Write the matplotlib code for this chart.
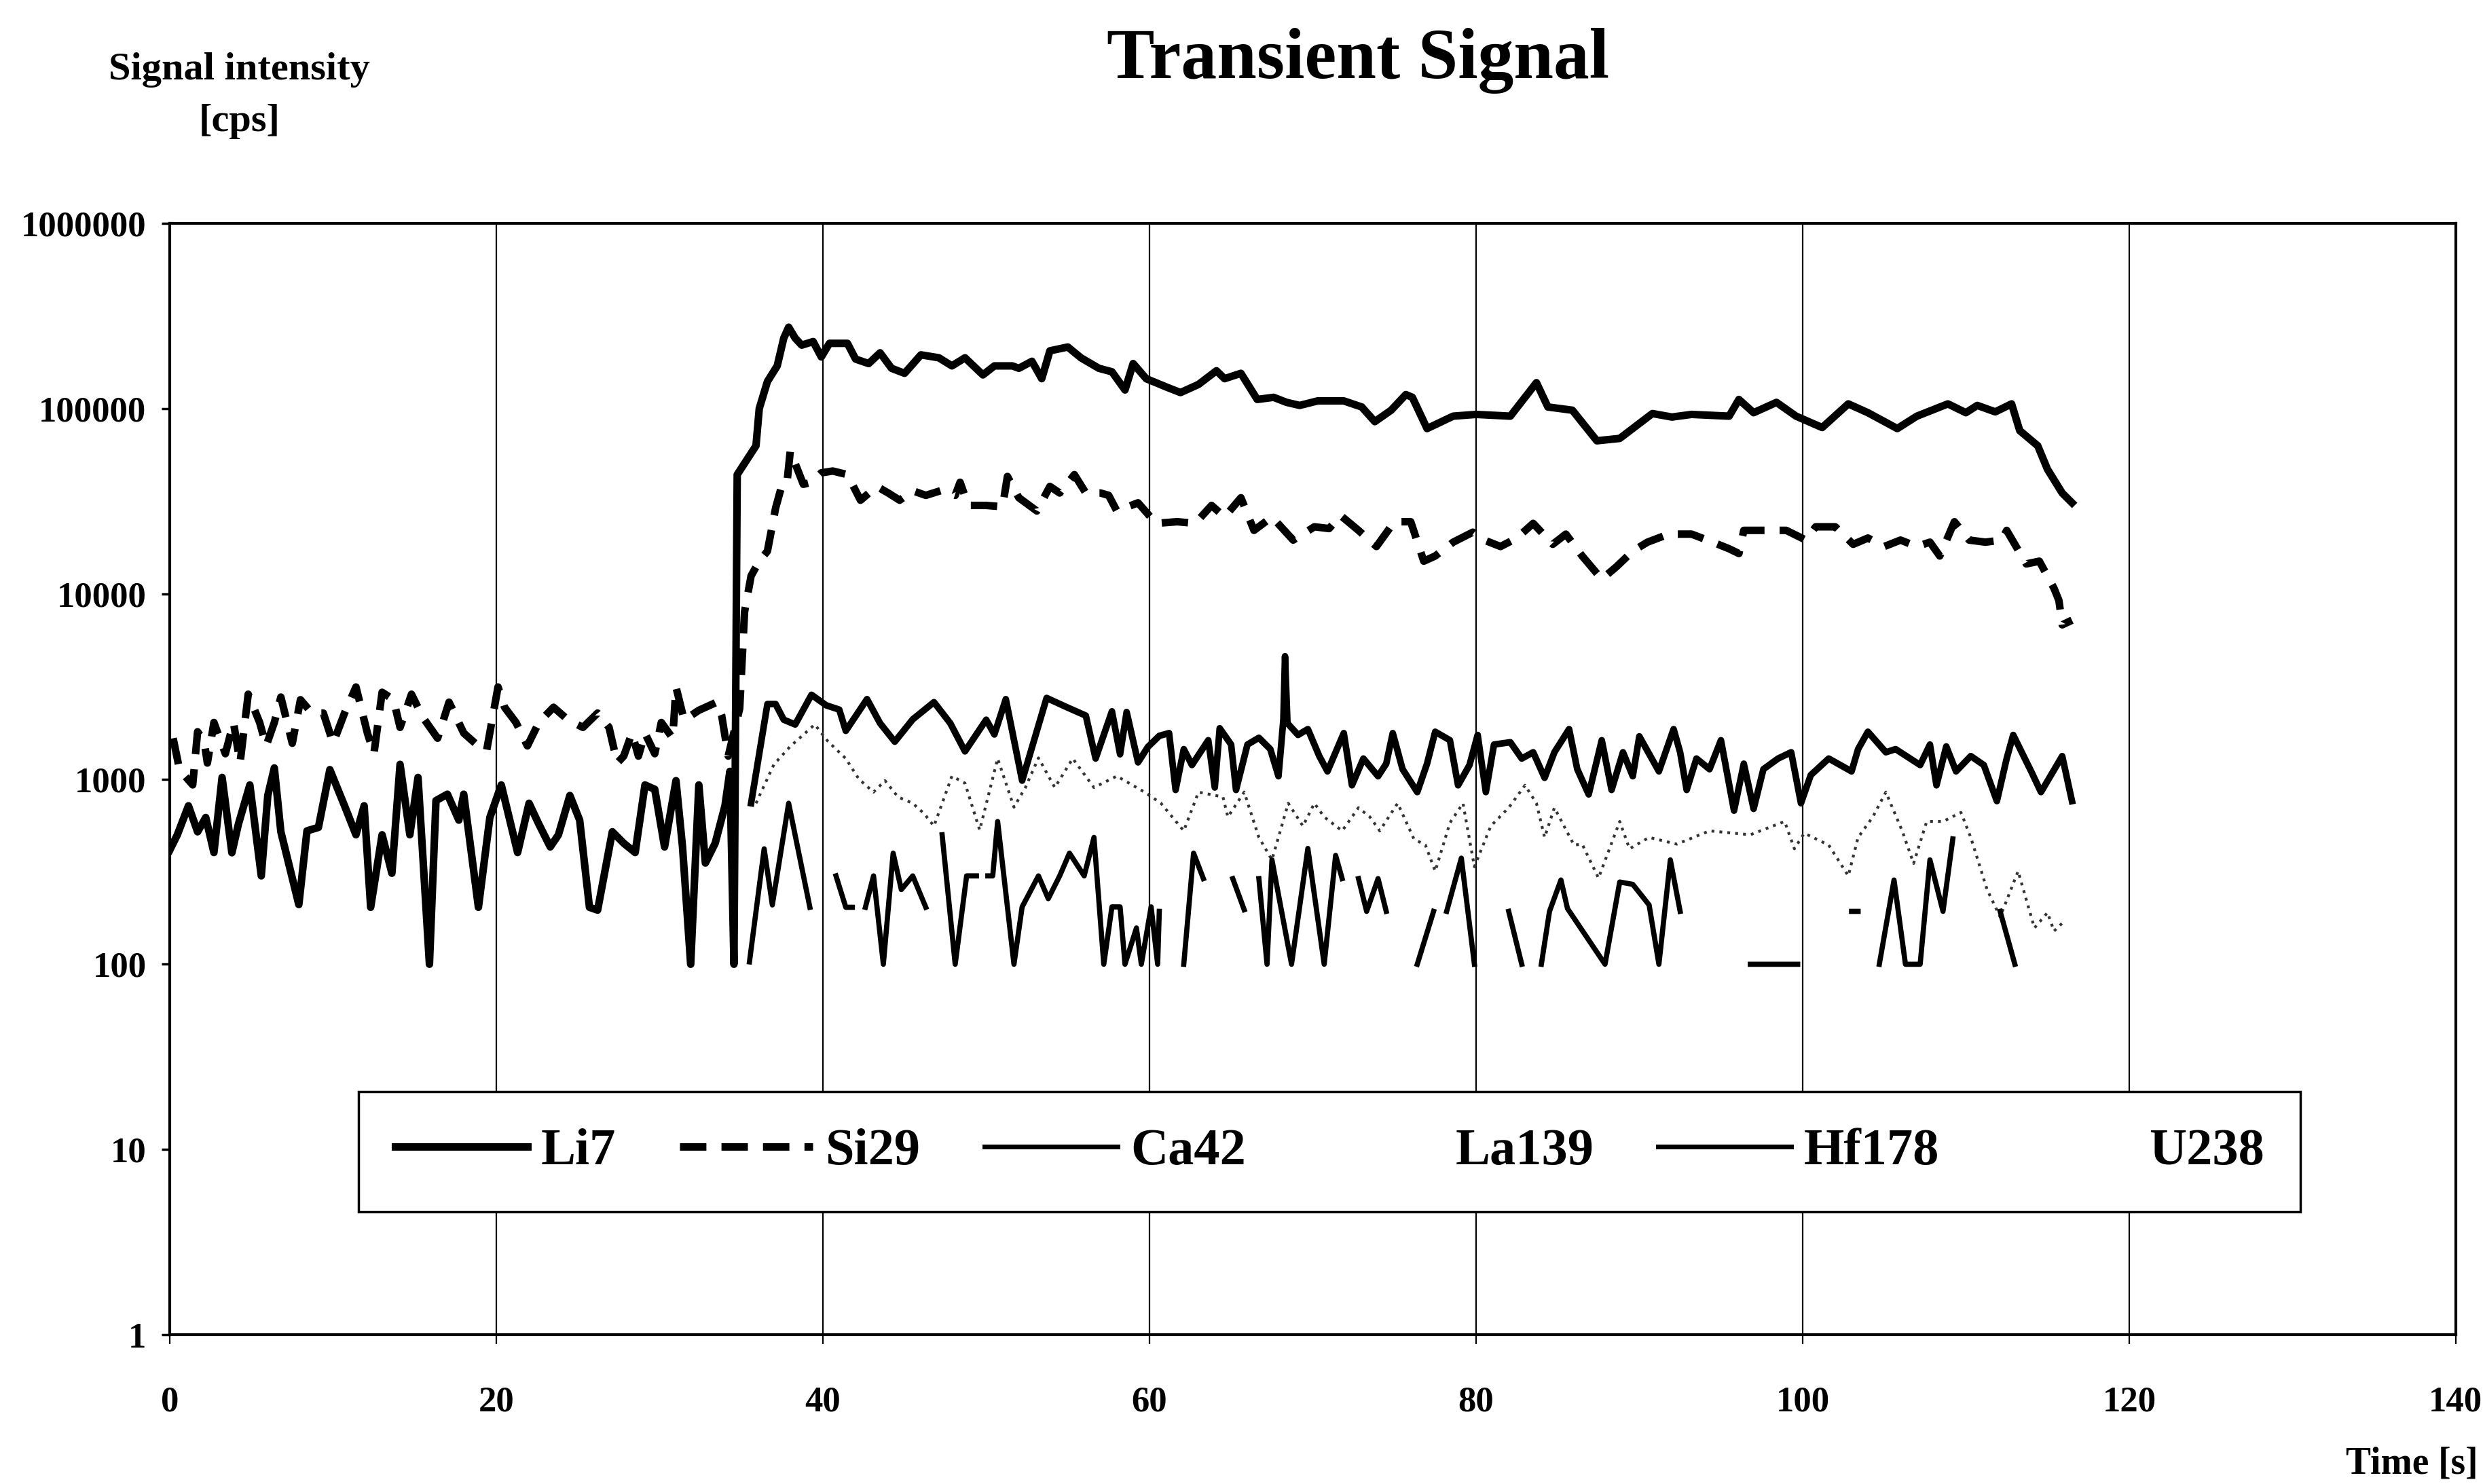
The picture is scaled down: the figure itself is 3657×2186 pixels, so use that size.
import matplotlib
matplotlib.use('Agg')
import matplotlib.pyplot as plt
from matplotlib.lines import Line2D
from matplotlib.ticker import FixedLocator, FuncFormatter, NullLocator


# Li7: background before ablation, then the main transient (cps)
li7_t = [0, 0.46, 1.14, 1.7, 2.2, 2.7, 3.2, 3.8, 4.2, 4.9, 5.6, 6.0, 6.4, 6.8, 7.9, 8.4,
         9.1, 9.8, 10.7, 11.4, 11.9, 12.3, 13.0, 13.6, 14.1, 14.7, 15.2, 15.9, 16.3, 17.0,
         17.7, 18.0, 18.9, 19.6, 20.3, 21.3, 22.0, 22.6, 23.3, 23.8, 24.5, 25.1, 25.7, 26.2,
         27.1, 27.8, 28.5, 29.1, 29.7, 30.3, 31.0, 31.4, 31.9, 32.4, 32.8, 33.4, 34.0, 34.3,
         34.55, 34.75, 35.9, 36.1, 36.6, 37.2, 37.6, 37.9, 38.3, 38.7, 39.4, 39.9, 40.4, 41.5,
         42.0, 42.8, 43.5, 44.2, 45.0, 46.0, 47.1, 47.9, 48.7, 49.8, 50.5, 51.6, 52.0, 52.8,
         53.4, 53.9, 55.0, 55.8, 56.9, 57.7, 58.5, 59.0, 59.8, 61.1, 61.9, 63.0, 64.1, 64.6,
         65.6, 66.6, 67.6, 68.4, 69.2, 70.3, 71.9, 73.0, 73.8, 74.8, 75.7, 76.1, 77.0, 78.6,
         80.0, 82.1, 83.7, 84.4, 85.9, 87.4, 88.8, 90.8, 92.0, 93.2, 95.5, 96.1, 97.0, 98.4,
         99.6, 101.2, 102.8, 104.0, 105.8, 107.0, 108.9, 110.0, 110.7, 111.8, 112.8, 113.3,
         114.4, 115.0, 115.9, 116.5]
li7_v = [414, 500, 717, 519, 620, 401, 1020, 400, 571, 929, 300, 815, 1148, 519, 210, 525,
         548, 1124, 717, 500, 717, 203, 500, 310, 1200, 500, 1020, 100, 765, 828,
         600, 828, 203, 620, 929, 401, 740, 571, 430, 500, 815, 600, 203, 196,
         519, 450, 401, 929, 880, 430, 980, 430, 100, 929, 352, 450, 717, 1100,
         100, 44000, 63000, 100000, 140000, 170000, 240000, 275000, 240000, 220000, 230000, 190000, 225000, 225000,
         185000, 175000, 200000, 165000, 155000, 195000, 188000, 170000, 188000, 152000, 170000, 170000, 165000, 180000,
         145000, 205000, 215000, 188000, 165000, 158000, 126000, 175000, 145000, 130000, 122000, 135000, 160000, 145000,
         155000, 112000, 115000, 108000, 104000, 110000, 110000, 102000, 85000, 98000, 119000, 115000, 78000, 91000,
         93000, 91000, 138000, 102000, 98000, 67000, 69000, 94000, 90000, 93000, 91000, 112000, 95000, 108000,
         91000, 79000, 106000, 95000, 78000, 91000, 106000, 95000, 104000, 96000, 106000, 76000,
         63000, 47000, 35000, 31000]

si29_t = [0.2, 0.6, 1.4, 1.7, 2.1, 2.3, 2.7, 3.4, 3.9, 4.3, 4.8, 5.5, 5.9, 6.4, 6.8, 7.5,
          8.0, 8.7, 9.4, 10.0, 10.7, 11.4, 12.1, 12.5, 13.0, 13.7, 14.1, 14.8, 15.5, 16.4,
          17.1, 18.0, 18.7, 19.4, 20.1, 20.5, 21.2, 21.9, 22.6, 23.5, 24.4, 25.3, 26.2, 26.9,
          27.4, 27.8, 28.3, 28.7, 29.1, 29.7, 30.1, 30.8, 31.0, 31.5, 32.4, 33.5, 33.8, 34.2,
          34.9, 35.2, 35.6, 36.1, 36.6, 37.1, 37.5, 37.8, 38.0, 38.4, 38.8, 39.3, 39.9, 40.6,
          41.5, 42.3, 43.3, 44.0, 44.7, 45.5, 46.3, 47.2, 48.1, 48.4, 48.9, 50.0, 51.0, 51.3,
          52.0, 53.1, 53.9, 54.5, 55.4, 56.1, 57.0, 57.5, 58.0, 59.3, 60.4, 61.7, 62.8, 63.8,
          64.6, 65.6, 66.4, 67.5, 68.8, 70.1, 71.0, 71.7, 72.8, 73.9, 75.0, 76.0, 76.8, 77.5,
          78.6, 79.8, 80.5, 81.5, 82.5, 83.5, 84.7, 85.5, 86.5, 87.7, 88.6, 89.6, 90.5, 91.8,
          93.2, 94.5, 95.5, 96.1, 96.4, 97.5, 99.0, 100.2, 100.8, 102.0, 103.1, 104.0, 105.0,
          106.0, 107.0, 107.8, 108.4, 109.3, 110.2, 111.2, 112.2, 112.5, 113.7, 114.5, 115.4,
          115.7, 115.9, 116.5]
si29_v = [1660, 1120, 930, 1800, 1600, 1220, 2020, 1370, 2020, 1220, 2870, 2020, 1510, 2020, 2770, 1560,
          2680, 2270, 2270, 1560, 2270, 3140, 1770, 1370, 2940, 2680, 1900, 2870, 2150, 1660,
          2600, 1770, 1560, 1420, 3140, 2440, 2020, 1510, 2020, 2440, 2080, 1900, 2270, 1900,
          1220, 1330, 1770, 1330, 1770, 1370, 2020, 1660, 3140, 2080, 2350, 2600, 2200, 1330,
          2400, 8000, 12500, 15000, 17000, 29000, 39000, 40000, 59000, 48000, 39000, 40000, 45000, 46000,
          44000, 32000, 38000, 35000, 32000, 36000, 34000, 36000, 34000, 40000, 30000, 30000, 29500, 43000,
          33000, 28000, 38000, 35000, 44000, 35000, 35000, 34000, 28000, 31000, 24000, 24500, 24000, 30000,
          26000, 33000, 22000, 26000, 19500, 23000, 22500, 26500, 22000, 18000, 24500, 24500, 15000, 16000,
          19000, 21500, 19500, 18000, 20000, 24000, 18500, 21000, 16000, 12000, 14000, 17000, 19000, 21000,
          21000, 19000, 17500, 16500, 22000, 22000, 22000, 19500, 23000, 23000, 18500, 20000, 18000,
          19500, 18000, 19000, 16000, 24500, 19500, 19000, 19500, 22000, 14500, 15000, 10700,
          9200, 6800, 7200]

ca42_t = [35.6, 36.6, 37.1, 37.6, 38.3, 39.3, 40.2, 41.0, 41.4, 42.7, 43.5, 44.4, 45.5, 46.8,
          47.8, 48.7, 50.0, 50.5, 51.2, 52.2, 53.7, 54.9, 56.1, 56.7, 57.7, 58.2, 58.6, 59.3,
          59.9, 60.6, 61.2, 61.6, 62.1, 62.6, 63.6, 64.0, 64.3, 65.0, 65.3, 66.0, 66.7, 67.4,
          67.9, 68.2, 68.3, 68.45, 69.1, 69.7, 70.4, 70.9, 71.4, 71.9, 72.4, 73.1, 74.0, 74.5,
          74.9, 75.5, 76.4, 77.0, 77.5, 78.4, 78.9, 79.6, 80.1, 80.6, 81.1, 82.1, 82.8, 83.5,
          84.2, 84.8, 85.7, 86.2, 86.9, 87.7, 88.3, 89.0, 89.6, 90.0, 91.2, 92.1, 92.5, 92.9,
          93.5, 94.3, 95.0, 95.8, 96.4, 97.0, 97.6, 98.5, 99.3, 99.9, 100.5, 101.6, 103.0, 103.4,
          104.0, 105.1, 105.7, 107.2, 107.8, 108.2, 108.8, 109.4, 110.3, 111.1, 111.9, 112.5,
          112.9, 114.0, 114.6, 115.9, 116.5]
ca42_v = [740, 2540, 2540, 2090, 1970, 2850, 2500, 2370, 1820, 2700, 2000, 1590, 2100, 2600,
          2000, 1410, 2090, 1740, 2700, 980, 2740, 2450, 2200, 1290, 2320, 1360, 2300, 1230,
          1490, 1710, 1770, 873, 1450, 1190, 1620, 900, 1880, 1535, 873, 1535, 1670, 1450,
          1035, 2090, 4600, 2000, 1730, 1860, 1330, 1100, 1395, 1770, 925, 1290, 1035, 1210,
          1770, 1130, 850, 1210, 1800, 1620, 925, 1190, 1730, 850, 1535, 1580, 1290, 1395,
          1015, 1395, 1860, 1130, 826, 1620, 873, 1395, 1035, 1700, 1100, 1860, 1395, 873,
          1290, 1130, 1620, 675, 1210, 690, 1130, 1290, 1395, 740, 1050, 1290, 1100, 1450,
          1800, 1395, 1450, 1190, 1535, 925, 1500, 1100, 1330, 1190, 760, 1290,
          1730, 1100, 850, 1330, 760]

la139_t = [35.9, 37.0, 38.0, 39.5, 40.3, 41.4, 42.2, 43.1, 43.8, 44.6, 45.5, 46.2, 46.8, 47.9,
           48.7, 49.6, 50.7, 51.7, 52.4, 53.2, 54.2, 55.3, 56.6, 58.0, 59.7, 60.7, 62.1, 63.0,
           64.5, 64.8, 65.8, 66.7, 67.5, 68.5, 69.4, 70.1, 70.7, 71.8, 72.8, 73.5, 74.1, 75.2,
           76.2, 76.9, 77.5, 78.4, 79.2, 79.9, 80.9, 82.0, 83.0, 83.7, 84.2, 84.8, 86.0, 86.5,
           87.5, 88.8, 89.4, 90.6, 92.3, 94.3, 96.8, 98.9, 99.5, 100.1, 101.6, 102.8, 103.4,
           104.3, 105.1, 106.1, 106.8, 107.6, 108.6, 109.7, 110.3, 111.3, 112.1, 113.2, 114.2,
           115.0, 115.4, 116.0]
la139_v = [740, 1200, 1500, 1970, 1600, 1290, 1000, 850, 980, 800, 740, 650, 557, 1037,
           950, 530, 1290, 705, 900, 1300, 900, 1290, 900, 1037, 850, 740, 525, 850,
           800, 624, 850, 484, 366, 740, 557, 740, 624, 525, 700, 624, 525, 740,
           474, 440, 318, 580, 740, 336, 557, 700, 925, 740, 484, 700, 440, 445,
           292, 590, 420, 484, 445, 525, 500, 590, 420, 510, 440, 300, 484,
           624, 850, 525, 350, 590, 590, 660, 484, 253, 180, 318, 157,
           190, 151, 170]

# zero counts leave gaps on the log axis
hf178_t = [35.5, 36.4, 36.9, 37.9, 39.2, 39.5, 40.5, 40.8, 41.4, 41.8, 42.1, 42.4, 42.6, 43.1,
           43.7, 44.3, 44.8, 45.5, 46.3, 46.6, 47.0, 47.3, 48.1, 48.8, 49.4, 49.8, 50.0, 50.1,
           50.4, 50.7, 51.7, 52.2, 53.2, 53.8, 54.5, 55.1, 56.0, 56.6, 57.2, 57.7, 58.2, 58.5,
           59.2, 59.5, 60.1, 60.5, 60.6, 60.9, 61.8, 62.1, 62.7, 63.3, 63.6, 64.8, 65.1, 65.8,
           66.1, 66.5, 66.7, 67.2, 67.5, 68.7, 69.7, 70.7, 71.4, 71.8, 72.1, 72.5, 72.8, 73.3,
           74.0, 74.5, 74.8, 76.0, 76.4, 77.4, 77.7, 77.9, 78.2, 79.1, 79.9, 80.2, 81.7, 82.0,
           82.8, 83.1, 83.7, 84.0, 84.5, 85.2, 85.6, 87.9, 88.8, 89.6, 90.6, 91.2, 91.9, 92.5,
           92.8, 96.5, 96.8, 99.7, 100.0, 102.8, 103.0, 103.4, 103.7, 104.4, 104.7, 105.6,
           106.3, 107.2, 107.8, 108.6, 109.2, 109.5, 111.8, 112.1, 113.0, 113.3]
hf178_v = [103, 420, 209, 740, 203, 0, 0, 300, 203, 203, 0, 0, 203, 300,
           100, 398, 253, 300, 203, 0, 0, 500, 100, 300, 300, 0, 0, 300,
           300, 590, 100, 204, 300, 226, 300, 398, 300, 484, 100, 204, 204, 100,
           157, 100, 204, 100, 193, 0, 0, 100, 398, 290, 0, 0, 290, 197,
           0, 0, 290, 100, 366, 100, 422, 100, 387, 290, 0, 0, 290, 193,
           290, 193, 0, 0, 100, 193, 0, 0, 193, 374, 100, 0, 0, 193,
           100, 0, 0, 100, 193, 285, 200, 100, 278, 270, 209, 100, 366, 193,
           0, 0, 100, 100, 0, 0, 193, 193, 0, 0, 100, 285,
           100, 100, 366, 193, 475, 0, 0, 193, 100, 0]

legend_labels = ['Li7', 'Si29', 'Ca42', 'La139', 'Hf178', 'U238']

plt.rcParams['font.family'] = ['Liberation Serif', 'DejaVu Serif']
plt.rcParams['font.weight'] = 'bold'

fig = plt.figure(figsize=(36.57, 21.86), dpi=100)
ax = fig.add_axes([0.0684, 0.1006, 0.9206, 0.7489])

si29_dash = (0, (3.5, 2))
ax.plot(la139_t, la139_v, color='#333333', lw=3, linestyle=(0, (1, 1.8)), zorder=2)
ax.plot(hf178_t, hf178_v, color='black', lw=5.5, zorder=3)
ax.plot(ca42_t, ca42_v, color='black', lw=7, zorder=3)
ax.plot(si29_t, si29_v, color='black', lw=8, linestyle=si29_dash, zorder=4)
ax.plot(li7_t, li7_v, color='black', lw=8, zorder=5)

ax.set_yscale('log', nonpositive='mask')
ax.set_xlim(0, 140)
ax.set_ylim(1, 1e6)
ax.yaxis.set_major_locator(FixedLocator([1, 10, 100, 1e3, 1e4, 1e5, 1e6]))
ax.yaxis.set_major_formatter(FuncFormatter(lambda v, p: f'{int(round(v))}'))
ax.yaxis.set_minor_locator(NullLocator())
ax.set_xticks(range(0, 141, 20))

ax.xaxis.grid(True, color='black', lw=1.6)
ax.set_axisbelow(True)
for s in ax.spines.values():
    s.set_linewidth(3)
ax.tick_params(axis='y', direction='out', length=9, width=2.5, pad=16, labelsize=38)
ax.tick_params(axis='x', direction='out', length=10, width=1.6, pad=44, labelsize=38)

handles = [
    Line2D([], [], color='black', lw=8),
    Line2D([], [], color='black', lw=8, linestyle=si29_dash),
    Line2D([], [], color='black', lw=5),
    Line2D([], [], color='black', lw=2.5, alpha=0),
    Line2D([], [], color='black', lw=5),
    Line2D([], [], color='black', lw=2.5, alpha=0),
]
leg = ax.legend(handles, legend_labels, ncol=6, loc='center', mode='expand',
                bbox_to_anchor=(0.1340, 0.1834, 0.803, 0.081), bbox_transform=fig.transFigure,
                prop={'family': 'Liberation Serif', 'weight': 'bold', 'size': 55},
                handlelength=2.56, handletextpad=0.25, borderpad=0.7,
                fancybox=False, framealpha=1, edgecolor='black')
leg.get_frame().set_linewidth(2.5)

fig.text(0.547, 0.959, 'Transient Signal', fontsize=76, fontweight='bold', ha='center', va='center')
fig.text(0.0963, 0.953, 'Signal intensity', fontsize=42, fontweight='bold', ha='center', va='center')
fig.text(0.0963, 0.918, '[cps]', fontsize=42, fontweight='bold', ha='center', va='center')
fig.text(0.998, 0.0133, 'Time [s]', fontsize=40, fontweight='bold', ha='right', va='center')

fig.savefig('out.png', dpi=100)
